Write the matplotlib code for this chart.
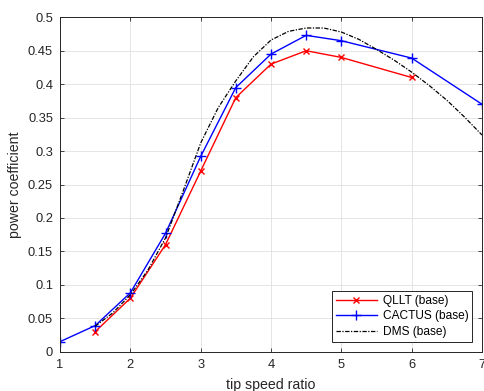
import numpy as np
import matplotlib
matplotlib.use('Agg')
import matplotlib.pyplot as plt
import matplotlib as mpl

mpl.rc('font', size=9, family=['Liberation Sans', 'DejaVu Sans'])

# values
tsr_qllt = [1.5, 2, 2.5, 3, 3.5, 4, 4.5, 5, 6]
cp_qllt = [0.030, 0.080, 0.160, 0.270, 0.380, 0.430, 0.450, 0.440, 0.410]

tsr_cactus = [1, 1.5, 2, 2.5, 3, 3.5, 4, 4.5, 5, 6, 7]
cp_cactus = [0.015, 0.039, 0.088, 0.177, 0.292, 0.395, 0.445, 0.473, 0.465, 0.439, 0.370]

tsr_dms = [1.5, 1.75, 2, 2.25, 2.5, 2.75, 3, 3.25, 3.5, 3.75, 4, 4.25, 4.5,
           4.75, 5, 5.25, 5.5, 5.75, 6, 6.25, 6.5, 6.75, 7]
cp_dms = [0.038, 0.058, 0.085, 0.122, 0.170, 0.240, 0.312, 0.365, 0.405,
          0.441, 0.466, 0.479, 0.484, 0.484, 0.478, 0.467, 0.452, 0.436,
          0.418, 0.398, 0.376, 0.351, 0.324]

yticks = [0, 0.05, 0.1, 0.15, 0.2, 0.25, 0.3, 0.35, 0.4, 0.45, 0.5]
xticks = [1, 2, 3, 4, 5, 6, 7]

dark = (0.15, 0.15, 0.15)

fig = plt.figure(figsize=(4.84, 3.91), dpi=100)
ax = fig.add_axes([60/484, 1 - 351.7/391, (482 - 60)/484, (351.7 - 17.3)/391])

ax.plot(tsr_qllt, cp_qllt, color='r', marker='x', ms=4.5, mew=1.0, lw=1.0,
        label='QLLT (base)')
ax.plot(tsr_cactus, cp_cactus, color='b', marker='+', ms=6.5, mew=1.0, lw=1.0,
        label='CACTUS (base)')
ax.plot(tsr_dms, cp_dms, color='k', ls=(0, (3.5, 1.2, 1, 1.2)), lw=0.9,
        label='DMS (base)')

ax.set_xlim(1, 7)
ax.set_ylim(0, 0.5)
ax.set_xticks(xticks)
ax.set_yticks(yticks)
ax.set_yticklabels(['%g' % v for v in yticks])
ax.grid(True, color=(0.88, 0.88, 0.88), lw=0.6)
ax.set_axisbelow(True)
ax.tick_params(direction='in', top=True, right=True, length=3, width=0.6,
               colors=dark, labelsize=9.3, pad=5)
for s in ax.spines.values():
    s.set_color(dark)
    s.set_linewidth(0.7)

ax.set_xlabel('tip speed ratio', fontsize=10.2, color=dark, labelpad=5)
ax.set_ylabel('power coefficient', fontsize=10.2, color=dark, labelpad=4)

leg = ax.legend(loc='lower right', fancybox=False, edgecolor=dark, fontsize=8.6,
                numpoints=1, handlelength=3.4, handletextpad=0.5,
                borderaxespad=0.8, labelspacing=0.3, borderpad=0.35,
                framealpha=1)
leg.get_frame().set_linewidth(0.7)

fig.savefig('out.png', dpi=100)
